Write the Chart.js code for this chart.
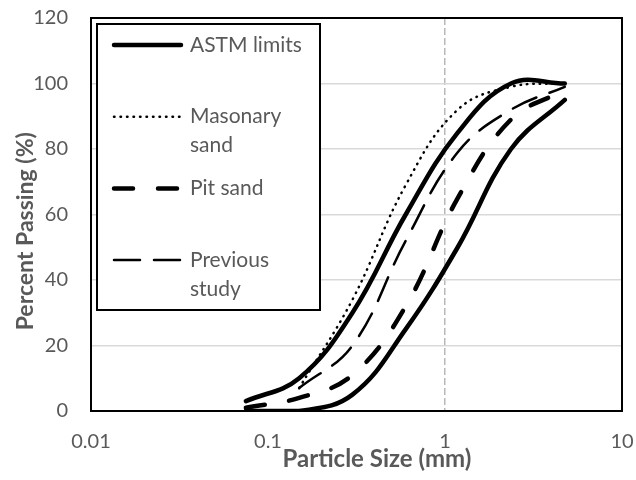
<!DOCTYPE html>
<html>
<head>
<meta charset="utf-8">
<script src="https://cdn.jsdelivr.net/npm/chart.js@4.4.1/dist/chart.umd.min.js"></script>
<style>
  html, body { margin: 0; padding: 0; background: #fff; }
  #wrap { width: 636px; height: 480px; }
</style>
</head>
<body>
<div id="wrap"><canvas id="chart"></canvas></div>
<script>
// sieve sizes (mm) and percent passing
const sieveSizes = [0.075, 0.15, 0.3, 0.6, 1.18, 2.36, 4.75];
const astmUpper = [3, 10, 30, 60, 85, 100, 100];
const astmLower = [0, 0, 5, 25, 50, 80, 95];
const masonarySand = [null, 7, 34, 69, 92, 99, 100];
const pitSand = [1, 4, 11, 32, 65, 89, 98];
const previousStudy = [null, 7, 20, 52, 79, 92, 99];
const xTicks = [0.01, 0.1, 1, 10];
const yTicks = [0, 20, 40, 60, 80, 100, 120];

const grey = '#595959';
const clear = 'rgba(0,0,0,0)';

function toPoints(values) {
  return sieveSizes
    .map((x, i) => ({ x: x, y: values[i] }))
    .filter(p => p.y !== null);
}

// black frame round the plot area
const plotFrame = {
  id: 'plotFrame',
  afterDraw(chart) {
    const a = chart.chartArea;
    const ctx = chart.ctx;
    ctx.save();
    ctx.strokeStyle = '#000';
    ctx.lineWidth = 2;
    ctx.strokeRect(a.left, a.top, a.right - a.left, a.bottom - a.top);
    ctx.restore();
  }
};

// boxed legend in the top left corner, like the Excel one
const boxLegend = {
  id: 'boxLegend',
  afterDraw(chart) {
    const ctx = chart.ctx;
    const left = 97, top = 24, width = 223, height = 286;
    ctx.save();
    ctx.fillStyle = '#fff';
    ctx.fillRect(left, top, width, height);
    ctx.lineWidth = 2;
    ctx.strokeStyle = '#000';
    ctx.strokeRect(left, top, width, height);
    ctx.font = '21px Lato';
    ctx.fillStyle = grey;
    ctx.textBaseline = 'middle';
    ctx.textAlign = 'left';

    const shown = chart.data.datasets.filter(d => !d.hideInLegend);
    shown.forEach((ds, i) => {
      const y = top + 21 + i * 71.7;
      ctx.save();
      ctx.strokeStyle = ds.borderColor;
      ctx.lineWidth = ds.borderWidth;
      ctx.setLineDash(ds.borderDash || []);
      ctx.lineCap = ds.borderCapStyle || 'butt';
      ctx.beginPath();
      ctx.moveTo(left + 17, y);
      ctx.lineTo(left + 84, y);
      ctx.stroke();
      ctx.restore();

      // simple word wrap inside the box
      const lines = [];
      let cur = '';
      ds.label.split(' ').forEach(w => {
        const test = cur ? cur + ' ' + w : w;
        if (cur && ctx.measureText(test).width > 122) {
          lines.push(cur);
          cur = w;
        } else {
          cur = test;
        }
      });
      lines.push(cur);
      lines.forEach((line, j) => ctx.fillText(line, left + 93, y + j * 29));
    });
    ctx.restore();
  }
};

const ctx = document.getElementById('chart').getContext('2d');
new Chart(ctx, {
  type: 'line',
  data: {
    datasets: [
      {
        label: 'ASTM limits',
        data: toPoints(astmUpper),
        borderColor: '#000',
        borderWidth: 4.5,
        borderCapStyle: 'round'
      },
      {
        label: 'Masonary sand',
        data: toPoints(masonarySand),
        borderColor: '#000',
        borderWidth: 2.5,
        borderDash: [0.5, 6],
        borderCapStyle: 'round'
      },
      {
        label: 'Pit sand',
        data: toPoints(pitSand),
        borderColor: '#000',
        borderWidth: 4.5,
        borderDash: [19, 25],
        borderCapStyle: 'round'
      },
      {
        label: 'Previous study',
        data: toPoints(previousStudy),
        borderColor: '#000',
        borderWidth: 2.5,
        borderDash: [26, 14],
        borderCapStyle: 'round'
      },
      {
        label: 'ASTM limits',
        hideInLegend: true,
        data: toPoints(astmLower),
        borderColor: '#000',
        borderWidth: 4.5,
        borderCapStyle: 'round'
      }
    ]
  },
  options: {
    responsive: true,
    maintainAspectRatio: false,
    animation: false,
    layout: { padding: { top: 18, right: 14, left: 6, bottom: 0 } },
    elements: {
      point: { radius: 0 },
      line: { tension: 0.4, fill: false, borderJoinStyle: 'round' }
    },
    plugins: {
      legend: { display: false },
      tooltip: { enabled: false }
    },
    scales: {
      x: {
        type: 'logarithmic',
        min: 0.01,
        max: 10,
        afterBuildTicks: axis => { axis.ticks = xTicks.map(v => ({ value: v })); },
        afterFit: axis => { axis.height = 69; },
        ticks: {
          color: grey,
          font: { family: 'Lato', size: 20 },
          padding: 0,
          maxRotation: 0,
          callback: v => String(v)
        },
        grid: {
          drawTicks: true,
          tickLength: 19,
          tickColor: clear,
          color: c => (c.tick && c.tick.value === 1 ? '#b8b8b8' : clear),
          lineWidth: 1.5
        },
        border: { display: false, dash: [7, 3] },
        title: {
          display: true,
          // leading spaces nudge the title right, as in the original
          text: '       Particle Size (mm)',
          color: grey,
          font: { family: 'Lato', size: 24, weight: 'bold' },
          padding: { top: 0, bottom: 6 }
        }
      },
      y: {
        min: 0,
        max: 120,
        afterBuildTicks: axis => { axis.ticks = yTicks.map(v => ({ value: v })); },
        afterFit: axis => { axis.width = 85; },
        ticks: {
          color: grey,
          font: { family: 'Lato', size: 20 },
          padding: 0
        },
        grid: {
          drawTicks: true,
          tickLength: 23,
          tickColor: clear,
          color: '#d9d9d9',
          lineWidth: 1.5
        },
        border: { display: false },
        title: {
          display: true,
          // trailing spaces nudge the title down, as in the original
          text: 'Percent Passing (%)      ',
          color: grey,
          font: { family: 'Lato', size: 23, weight: 'bold' },
          padding: { top: 6, bottom: 0 }
        }
      }
    }
  },
  plugins: [plotFrame, boxLegend]
});
</script>
</body>
</html>
